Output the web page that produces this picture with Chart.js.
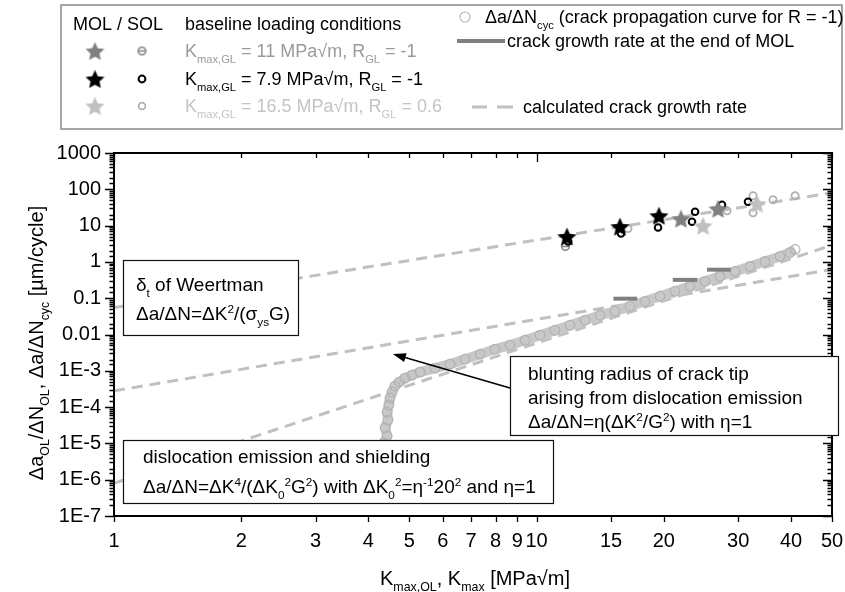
<!DOCTYPE html>
<html lang="en">
<head>
<meta charset="UTF-8" />
<title>Crack growth rate vs Kmax</title>
<script src="https://cdn.jsdelivr.net/npm/chart.js@4.4.1/dist/chart.umd.min.js"></script>
<style>
  html, body { margin: 0; padding: 0; background: #fff; }
</style>
</head>
<body>
<canvas id="chart" width="845" height="592"></canvas>
<script>
const FONT = '"Liberation Sans", Arial, Helvetica, sans-serif';

// crack propagation curve for R = -1 (Kmax [MPa√m], da/dN [µm/cycle])
const curveK = [4.40, 4.35, 4.43, 4.38, 4.45, 4.43, 4.47, 4.50, 4.55, 4.62, 4.73, 4.88, 5.07,
  5.30, 5.75, 6.24, 6.77, 7.35, 7.97, 8.65, 9.39, 10.19, 11.05, 12.00, 13.02, 14.13, 15.33,
  16.63, 18.05, 19.59, 21.26, 23.07, 25.03, 27.16, 29.48, 31.99, 34.71, 37.67, 39.79, 40.9];
const curveRate = [6.6e-6, 1.03e-5, 1.6e-5, 2.7e-5, 4.4e-5, 7.3e-5, 1.14e-4, 1.8e-4, 2.6e-4, 3.8e-4, 4.9e-4, 6.3e-4, 7.6e-4,
  9.2e-4, 1.19e-3, 1.53e-3, 2.09e-3, 2.88e-3, 3.94e-3, 5.08e-3, 6.97e-3, 9.57e-3, 0.0131, 0.0180, 0.0247, 0.0339, 0.0437,
  0.0598, 0.0822, 0.113, 0.155, 0.212, 0.291, 0.400, 0.548, 0.752, 1.03, 1.42, 1.82, 2.2];

// crack growth rate at the end of MOL: [K start, K end, rate]
const molEndK1 = [15.2, 21.0, 25.3];
const molEndK2 = [17.3, 24.0, 28.8];
const molEndRate = [0.097, 0.32, 0.61];

// MOL (stars) and SOL (circles) per baseline loading condition
const molK_11 = [21.96, 26.87];
const molRate_11 = [15.5, 29.1];
const solK_11 = [11.7];
const solRate_11 = [2.67];

const molK_79 = [11.8, 15.75, 19.48];
const molRate_79 = [5.0, 9.4, 18.7];
const solK_79 = [11.87, 15.84, 19.38, 23.32, 23.71, 27.46, 31.64];
const solRate_79 = [3.66, 6.07, 8.87, 12.8, 24.1, 37.5, 45.4];

const molK_165 = [24.76, 33.23];
const molRate_165 = [9.9, 40.0];
const solK_165 = [16.45, 28.22, 32.52, 32.52, 36.25, 40.9];
const solRate_165 = [8.3, 25.6, 66.4, 22.6, 51.5, 66.4];

// calculated crack growth rates, end points of each line
const weertmanK = [1, 50];
const weertmanRate = [0.055, 80];
const bluntingK = [1, 50];
const bluntingRate = [2.8e-4, 0.62];
const shieldingK = [1, 50];
const shieldingRate = [8e-7, 2.9];

// arrow tip pointing at the blunting line
const arrowTipK = 4.57;
const arrowTipRate = 2.9e-3;

const yTickLabels = { '3': '1000', '2': '100', '1': '10', '0': '1', '-1': '0.1', '-2': '0.01',
  '-3': '1E-3', '-4': '1E-4', '-5': '1E-5', '-6': '1E-6', '-7': '1E-7' };

const GREY_MID = '#808080';
const GREY_LIGHT = '#c0c0c0';

function pts(xs, ys) { return xs.map((x, i) => ({ x: x, y: ys[i] })); }

function starImage(fill, size) {
  const c = document.createElement('canvas');
  c.width = c.height = size;
  const g = c.getContext('2d');
  const r = size / 2, ri = r * 0.45;
  g.beginPath();
  for (let i = 0; i < 10; i++) {
    const a = -Math.PI / 2 + i * Math.PI / 5;
    const rr = i % 2 ? ri : r - 0.5;
    g.lineTo(r + rr * Math.cos(a), r + 1 + rr * Math.sin(a));
  }
  g.closePath();
  g.fillStyle = fill;
  g.fill();
  return c;
}

function minusCircleImage(color) {
  const c = document.createElement('canvas');
  c.width = c.height = 11;
  const g = c.getContext('2d');
  g.strokeStyle = color;
  g.lineWidth = 1.5;
  g.beginPath(); g.arc(5.5, 5.5, 3.8, 0, Math.PI * 2); g.stroke();
  g.beginPath(); g.moveTo(2, 5.5); g.lineTo(9, 5.5); g.stroke();
  return c;
}

const starGrey = starImage(GREY_MID, 21);
const starBlack = starImage('#000', 21);
const starLight = starImage(GREY_LIGHT, 21);
const solGrey = minusCircleImage(GREY_MID);

const dashed = { borderColor: GREY_LIGHT, borderWidth: 3, borderDash: [11, 7], showLine: true, pointRadius: 0 };

const datasets = [
  { data: pts(molK_79, molRate_79), pointStyle: starBlack, order: 1 },
  { data: pts(molK_11, molRate_11), pointStyle: starGrey, order: 2 },
  { data: pts(molK_165, molRate_165), pointStyle: starLight, order: 3 },
  { data: pts(solK_79, solRate_79), pointStyle: 'circle', pointRadius: 3.3, borderWidth: 2,
    borderColor: '#000', backgroundColor: 'rgba(0,0,0,0)', order: 4 },
  { data: pts(solK_11, solRate_11), pointStyle: solGrey, order: 5 },
  { data: pts(solK_165, solRate_165), pointStyle: 'circle', pointRadius: 3.6, borderWidth: 1.8,
    borderColor: '#b0b0b0', backgroundColor: 'rgba(0,0,0,0)', order: 6 }
];
molEndRate.forEach((r, i) => {
  datasets.push({ data: [{ x: molEndK1[i], y: r }, { x: molEndK2[i], y: r }], showLine: true,
    borderColor: GREY_MID, borderWidth: 4, pointRadius: 0, order: 7 });
});
datasets.push({ data: pts(curveK, curveRate), showLine: true, borderColor: '#c8c8c8', borderWidth: 10,
  pointStyle: 'circle', pointRadius: 4.8, pointBorderColor: '#b2b2b2', pointBorderWidth: 1.2,
  pointBackgroundColor: 'rgba(0,0,0,0)', order: 8 });
datasets.push(Object.assign({ data: pts(weertmanK, weertmanRate), order: 9 }, dashed));
datasets.push(Object.assign({ data: pts(bluntingK, bluntingRate), order: 9 }, dashed));
datasets.push(Object.assign({ data: pts(shieldingK, shieldingRate), order: 9 }, dashed));

// text with _{sub} and ^{sup} parts
function parseRich(str) {
  const parts = [];
  const re = /([_^])\{([^}]*)\}/g;
  let last = 0, m;
  while ((m = re.exec(str))) {
    if (m.index > last) parts.push([str.slice(last, m.index), 'n']);
    parts.push([m[2], m[1] === '_' ? 'sub' : 'sup']);
    last = re.lastIndex;
  }
  if (last < str.length) parts.push([str.slice(last), 'n']);
  return parts;
}

function richText(ctx, str, x, y, size, align, color) {
  const parts = parseRich(str);
  const small = size * 0.62;
  let w = 0;
  parts.forEach(p => {
    ctx.font = (p[1] === 'n' ? size : small) + 'px ' + FONT;
    w += ctx.measureText(p[0]).width;
  });
  let cx = align === 'center' ? x - w / 2 : x;
  const base = y + size * 0.36;
  ctx.fillStyle = color || '#000';
  ctx.textBaseline = 'alphabetic';
  ctx.textAlign = 'left';
  parts.forEach(p => {
    ctx.font = (p[1] === 'n' ? size : small) + 'px ' + FONT;
    const dy = p[1] === 'sub' ? size * 0.3 : p[1] === 'sup' ? -size * 0.38 : 0;
    ctx.fillText(p[0], cx, base + dy);
    cx += ctx.measureText(p[0]).width;
  });
  return w;
}

function textBox(ctx, x1, y1, x2, y2, lines, tx, size) {
  ctx.save();
  ctx.fillStyle = '#fff';
  ctx.fillRect(x1, y1, x2 - x1, y2 - y1);
  ctx.strokeStyle = '#111';
  ctx.lineWidth = 1.2;
  ctx.strokeRect(x1 + 0.5, y1 + 0.5, x2 - x1, y2 - y1);
  lines.forEach(l => richText(ctx, l[0], tx, l[1], size, 'left'));
  ctx.restore();
}

const framePlugin = {
  id: 'frame',
  afterDraw(chart) {
    const ctx = chart.ctx;
    const a = chart.chartArea;
    const xs = chart.scales.x, ys = chart.scales.y;
    ctx.save();

    // axes frame
    ctx.strokeStyle = '#000';
    ctx.lineWidth = 2;
    ctx.strokeRect(a.left, a.top, a.right - a.left, a.bottom - a.top);

    // tick marks
    ctx.lineWidth = 1.3;
    ctx.beginPath();
    xs.ticks.forEach(t => {
      const px = Math.round(xs.getPixelForValue(t.value)) + 0.5;
      const decade = Math.abs(Math.log10(t.value) - Math.round(Math.log10(t.value))) < 1e-6;
      ctx.moveTo(px, a.bottom); ctx.lineTo(px, a.bottom + 6);
      ctx.moveTo(px, a.top); ctx.lineTo(px, a.top + (decade ? 9 : 5));
    });
    ys.ticks.forEach(t => {
      const py = Math.round(ys.getPixelForValue(t.value)) + 0.5;
      const decade = Math.abs(Math.log10(t.value) - Math.round(Math.log10(t.value))) < 1e-6;
      const len = decade ? 9 : 4.5;
      ctx.moveTo(a.left, py); ctx.lineTo(a.left - len, py);
      ctx.moveTo(a.right, py); ctx.lineTo(a.right - len, py);
    });
    ctx.stroke();

    // axis titles
    richText(ctx, 'K_{max,OL}, K_{max} [MPa\u221am]', 475, 578, 20, 'center');
    ctx.save();
    ctx.translate(36, 343);
    ctx.rotate(-Math.PI / 2);
    richText(ctx, '\u0394a_{OL}/\u0394N_{OL}, \u0394a/\u0394N_{cyc} [\u00b5m/cycle]', 0, 0, 20, 'center');
    ctx.restore();

    // annotation boxes
    textBox(ctx, 123, 260, 298, 335, [
      ['\u03b4_{t} of Weertman', 284],
      ['\u0394a/\u0394N=\u0394K^{2}/(\u03c3_{ys}G)', 313]
    ], 136, 19);
    textBox(ctx, 510, 356, 838, 435, [
      ['blunting radius of crack tip', 373],
      ['arising from dislocation emission', 397],
      ['\u0394a/\u0394N=\u03b7(\u0394K^{2}/G^{2}) with \u03b7=1', 421]
    ], 528, 19);
    textBox(ctx, 123, 440, 553, 503, [
      ['dislocation emission and shielding', 456],
      ['\u0394a/\u0394N=\u0394K^{4}/(\u0394K_{0}^{2}G^{2}) with \u0394K_{0}^{2}=\u03b7^{-1}20^{2} and \u03b7=1', 486]
    ], 143, 19);

    // arrow from the blunting box to its line
    const tipX = xs.getPixelForValue(arrowTipK), tipY = ys.getPixelForValue(arrowTipRate);
    const tailX = 510, tailY = 388;
    const ang = Math.atan2(tipY - tailY, tipX - tailX);
    ctx.strokeStyle = '#000';
    ctx.fillStyle = '#000';
    ctx.lineWidth = 1.5;
    ctx.beginPath();
    ctx.moveTo(tailX, tailY);
    ctx.lineTo(tipX - 10 * Math.cos(ang), tipY - 10 * Math.sin(ang));
    ctx.stroke();
    ctx.beginPath();
    ctx.moveTo(tipX, tipY);
    ctx.lineTo(tipX - 13 * Math.cos(ang) + 4.5 * Math.sin(ang), tipY - 13 * Math.sin(ang) - 4.5 * Math.cos(ang));
    ctx.lineTo(tipX - 13 * Math.cos(ang) - 4.5 * Math.sin(ang), tipY - 13 * Math.sin(ang) + 4.5 * Math.cos(ang));
    ctx.closePath();
    ctx.fill();

    // legend box
    ctx.strokeStyle = '#888';
    ctx.lineWidth = 1.5;
    ctx.strokeRect(61, 5, 781, 124);
    const ls = 18;
    richText(ctx, 'MOL / SOL', 73, 24, ls, 'left');
    richText(ctx, 'baseline loading conditions', 185, 24, ls, 'left');
    const rows = [
      [starGrey, 'grey', 'K_{max,GL} = 11 MPa\u221am, R_{GL} = -1', '#9a9a9a', 51],
      [starBlack, 'black', 'K_{max,GL} = 7.9 MPa\u221am, R_{GL} = -1', '#000', 79],
      [starLight, 'light', 'K_{max,GL} = 16.5 MPa\u221am, R_{GL} = 0.6', '#c4c4c4', 106]
    ];
    rows.forEach(r => {
      ctx.drawImage(r[0], 95 - 10.5, r[4] - 10.5);
      if (r[1] === 'grey') {
        ctx.drawImage(solGrey, 142 - 5.5, r[4] - 5.5);
      } else {
        ctx.strokeStyle = r[1] === 'black' ? '#000' : '#b0b0b0';
        ctx.lineWidth = r[1] === 'black' ? 2 : 1.8;
        ctx.beginPath(); ctx.arc(142, r[4], 3.4, 0, Math.PI * 2); ctx.stroke();
      }
      richText(ctx, r[2], 185, r[4], ls, 'left', r[3]);
    });

    // right legend column
    ctx.strokeStyle = '#b4b4b4';
    ctx.lineWidth = 1.1;
    ctx.beginPath(); ctx.arc(465, 17, 5, 0, Math.PI * 2); ctx.stroke();
    richText(ctx, '\u0394a/\u0394N_{cyc} (crack propagation curve for R = -1)', 485, 17, ls, 'left');
    ctx.strokeStyle = GREY_MID;
    ctx.lineWidth = 4;
    ctx.beginPath(); ctx.moveTo(457, 41); ctx.lineTo(505, 41); ctx.stroke();
    richText(ctx, 'crack growth rate at the end of MOL', 507, 41, ls, 'left');
    ctx.strokeStyle = GREY_LIGHT;
    ctx.lineWidth = 3;
    ctx.beginPath();
    ctx.moveTo(472, 107); ctx.lineTo(487, 107);
    ctx.moveTo(497, 107); ctx.lineTo(513, 107);
    ctx.stroke();
    richText(ctx, 'calculated crack growth rate', 523, 107, ls, 'left');

    ctx.restore();
  }
};

new Chart(document.getElementById('chart'), {
  type: 'scatter',
  data: { datasets: datasets },
  options: {
    responsive: false,
    animation: false,
    devicePixelRatio: 1,
    layout: { padding: { top: 153, right: 13, left: 0, bottom: 0 } },
    plugins: { legend: { display: false }, tooltip: { enabled: false } },
    scales: {
      x: {
        type: 'logarithmic', min: 1, max: 50,
        grid: { display: false, drawTicks: false },
        border: { display: false },
        ticks: {
          autoSkip: false, maxRotation: 0, padding: 13, color: '#000',
          font: { family: FONT, size: 20 },
          callback: v => String(Number(v.toPrecision(6)))
        },
        afterFit: s => { s.height = 76; s.paddingLeft = 0; s.paddingRight = 0; }
      },
      y: {
        type: 'logarithmic', min: 1e-7, max: 1000,
        grid: { display: false, drawTicks: false },
        border: { display: false },
        ticks: {
          autoSkip: false, padding: 13, color: '#000',
          font: { family: FONT, size: 20 },
          callback: v => {
            const e = Math.round(Math.log10(v));
            if (Math.abs(Math.log10(v) - e) > 1e-6) return '';
            return yTickLabels[String(e)] || '';
          }
        },
        afterFit: s => { s.width = 114; s.paddingTop = 0; s.paddingBottom = 0; }
      }
    }
  },
  plugins: [framePlugin]
});
</script>
</body>
</html>
